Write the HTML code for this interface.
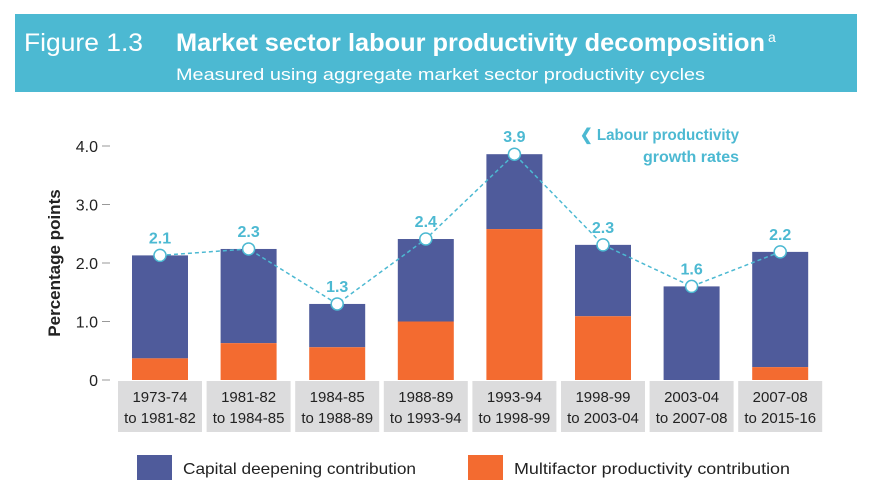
<!DOCTYPE html>
<html><head><meta charset="utf-8"><style>
body{margin:0;background:#fff;font-family:"Liberation Sans",sans-serif;}
#wrap{position:relative;width:873px;height:493px;overflow:hidden;}
</style></head><body>
<div id="wrap">
<svg id="chart" width="873" height="493">
<rect x="15" y="14" width="842" height="78" fill="#4cb9d2"/>
<text x="24" y="51" font-size="25" fill="#fff" textLength="119" lengthAdjust="spacingAndGlyphs">Figure 1.3</text>
<text x="176" y="51" font-size="25" font-weight="bold" fill="#fff" textLength="589" lengthAdjust="spacingAndGlyphs">Market sector labour productivity decomposition</text>
<text x="768" y="42" font-size="14" fill="#fff">a</text>
<text x="176" y="80" font-size="17" fill="#fff" textLength="529" lengthAdjust="spacingAndGlyphs">Measured using aggregate market sector productivity cycles</text>
<text transform="translate(60,263) rotate(-90)" text-anchor="middle" font-size="17" font-weight="bold" fill="#222">Percentage points</text>
<g id="g"></g>
<text x="580" y="140" font-size="16" font-weight="bold" fill="#4cb9d2" textLength="159" lengthAdjust="spacingAndGlyphs">❮ Labour productivity</text>
<text x="739" y="162" text-anchor="end" font-size="16" font-weight="bold" fill="#4cb9d2">growth rates</text>
<rect x="137" y="455" width="35" height="25" fill="#4f5b9b"/>
<text x="183" y="474" font-size="16" fill="#222" textLength="233" lengthAdjust="spacingAndGlyphs">Capital deepening contribution</text>
<rect x="468" y="455" width="35" height="25" fill="#f36b30"/>
<text x="514" y="474" font-size="16" fill="#222" textLength="276" lengthAdjust="spacingAndGlyphs">Multifactor productivity contribution</text>
</svg>
</div>
<script>
const cat1=["1973-74","1981-82","1984-85","1988-89","1993-94","1998-99","2003-04","2007-08"];
const cat2=["to 1981-82","to 1984-85","to 1988-89","to 1993-94","to 1998-99","to 2003-04","to 2007-08","to 2015-16"];
const totals=[2.13,2.24,1.3,2.41,3.86,2.31,1.6,2.19];
const mfp=[0.37,0.63,0.56,1.0,2.58,1.09,0,0.22];
const labels=["2.1","2.3","1.3","2.4","3.9","2.3","1.6","2.2"];
const ticks=[0,1,2,3,4];
const tickLabels=["0","1.0","2.0","3.0","4.0"];
const NS="http://www.w3.org/2000/svg",g=document.getElementById('g');
const y=v=>380-v*58.5, xc=i=>160+i*88.6;
function mk(t,a){const e=document.createElementNS(NS,t);for(const k in a)e.setAttribute(k,a[k]);g.appendChild(e);return e;}
ticks.forEach((t,i)=>{
 let e=mk('text',{x:98,y:y(t)+6,'text-anchor':'end','font-size':16,fill:'#222'});e.textContent=tickLabels[i];
 
 
 let l=mk('line',{x1:102,x2:110,y1:y(t),y2:y(t),stroke:'#999'});
 
 
});
cat1.forEach((c,i)=>{
 let b=mk('rect',{x:xc(i)-42,y:381,width:84,height:51,fill:'#dcdcdd'});
 
 
 let t=mk('text',{x:xc(i),y:402,'text-anchor':'middle','font-size':15,fill:'#222'});t.textContent=c;
 
 
 let t2=mk('text',{x:xc(i),y:423,'text-anchor':'middle','font-size':15,fill:'#222'});t2.textContent=cat2[i];
 
 
 let r=mk('rect',{x:xc(i)-28,y:y(totals[i]),width:56,height:y(mfp[i])-y(totals[i]),fill:'#4f5b9b'});
 
 
 let o=mk('rect',{x:xc(i)-28,y:y(mfp[i]),width:56,height:380-y(mfp[i]),fill:'#f36b30'});
 
 
});
let d=totals.map((v,i)=>(i?'L':'M')+xc(i)+','+y(v)).join('');
let p=mk('path',{d:d,fill:'none',stroke:'#4cb9d2','stroke-width':1.5,'stroke-dasharray':'4,3'});


totals.forEach((v,i)=>{
 let c=mk('circle',{cx:xc(i),cy:y(v),r:6,fill:'#fff',stroke:'#4cb9d2','stroke-width':1.5});
 
 
 let t=mk('text',{x:xc(i),y:y(v)-12,'text-anchor':'middle','font-size':16,'font-weight':'bold',fill:'#4cb9d2'});t.textContent=labels[i];
 
 
});
</script>
</body></html>
